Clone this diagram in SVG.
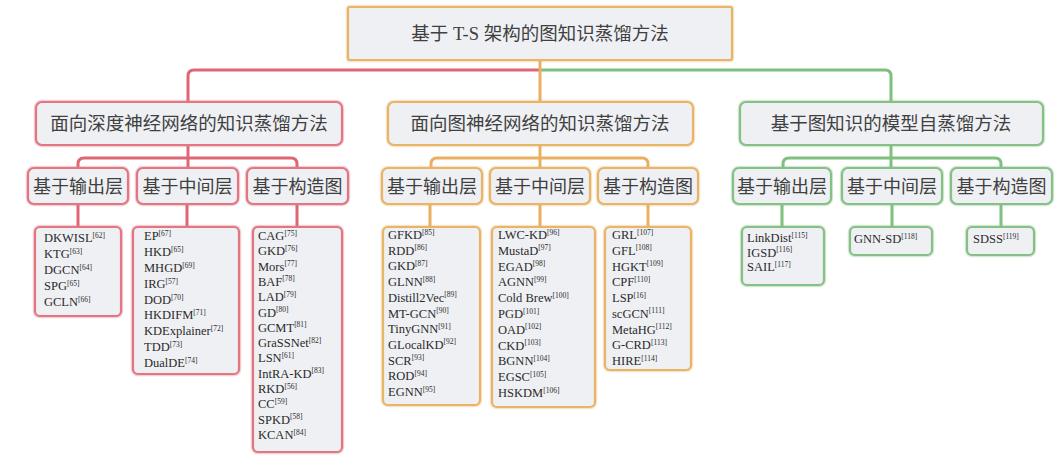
<svg xmlns="http://www.w3.org/2000/svg" width="1063" height="465" viewBox="0 0 1063 465">
<style>
.bg{fill:#ffffff}
.box{fill:#eff0f4;stroke-width:2.2}
.r{stroke:#e07783}
.o{stroke:#e8b468}
.g{stroke:#86c086}
.halo{fill:none;stroke-width:4.5;opacity:0.35}
.cr{fill:none;stroke:#e06676;stroke-width:3}
.co{fill:none;stroke:#eab060;stroke-width:3}
.cg{fill:none;stroke:#7fbf7f;stroke-width:3}
.t1{font-family:"Liberation Serif","Noto Sans CJK SC",serif;font-size:18.5px;fill:#404040;text-anchor:middle}
.t3{font-family:"Liberation Serif","Noto Sans CJK SC",serif;font-size:18px;fill:#404040;text-anchor:middle}
.li{font-family:"Liberation Serif","Times New Roman",serif;font-size:12.5px;fill:#2a2a2a}
.sup{font-size:7.5px}
</style>
<rect class="bg" x="0" y="0" width="1063" height="465"/>
<g id="connectors">
  <path class="cr" d="M188,102 V76 Q188,70 194,70 H540"/>
  <path class="cg" d="M540,70 H885 Q891,70 891,76 V102"/>
  <path class="co" d="M540,60 V102"/>
  <path class="cr" d="M188,145 V168"/>
  <path class="cr" d="M78,168 V164 Q78,158 84,158 H291 Q297,158 297,164 V168"/>
  <path class="cr" d="M78,204 V227 M187,204 V227 M297,204 V227"/>
  <path class="co" d="M540,145 V168"/>
  <path class="co" d="M431,168 V164 Q431,158 437,158 H642 Q648,158 648,164 V168"/>
  <path class="co" d="M430,204 V227 M540,204 V227 M648,204 V227"/>
  <path class="cg" d="M891,145 V168"/>
  <path class="cg" d="M783,168 V164 Q783,158 789,158 H995 Q1001,158 1001,164 V168"/>
  <path class="cg" d="M782,204 V227 M892,204 V227 M1001,204 V227"/>
</g>
<g id="root">
  <rect class="halo o" x="348" y="7" width="384" height="53" rx="2"/>
  <rect class="box o" x="348" y="7" width="384" height="53" rx="2" stroke-width="2.8"/>
  <text class="t1" x="540" y="40">基于 T-S 架构的图知识蒸馏方法</text>
</g>
<g id="dnn">
  <rect class="halo r" x="36" y="102" width="306" height="43" rx="6"/>
  <rect class="box r" x="36" y="102" width="306" height="43" rx="6"/>
  <text class="t1" x="189" y="130">面向深度神经网络的知识蒸馏方法</text>
</g>
<g id="gnn">
  <rect class="halo o" x="388" y="102" width="305" height="43" rx="6"/>
  <rect class="box o" x="388" y="102" width="305" height="43" rx="6"/>
  <text class="t1" x="540" y="130">面向图神经网络的知识蒸馏方法</text>
</g>
<g id="self">
  <rect class="halo g" x="740" y="102" width="303" height="43" rx="6"/>
  <rect class="box g" x="740" y="102" width="303" height="43" rx="6"/>
  <text class="t1" x="891" y="130">基于图知识的模型自蒸馏方法</text>
</g>
<g id="dnn-out">
  <rect class="halo r" x="28" y="168" width="100" height="36" rx="6"/>
  <rect class="box r" x="28" y="168" width="100" height="36" rx="6"/>
  <text class="t3" x="78" y="193">基于输出层</text>
</g>
<g id="dnn-mid">
  <rect class="halo r" x="137" y="168" width="101" height="36" rx="6"/>
  <rect class="box r" x="137" y="168" width="101" height="36" rx="6"/>
  <text class="t3" x="187.5" y="193">基于中间层</text>
</g>
<g id="dnn-graph">
  <rect class="halo r" x="247" y="168" width="101" height="36" rx="6"/>
  <rect class="box r" x="247" y="168" width="101" height="36" rx="6"/>
  <text class="t3" x="297.5" y="193">基于构造图</text>
</g>
<g id="gnn-out">
  <rect class="halo o" x="382" y="168" width="100" height="36" rx="6"/>
  <rect class="box o" x="382" y="168" width="100" height="36" rx="6"/>
  <text class="t3" x="432" y="193">基于输出层</text>
</g>
<g id="gnn-mid">
  <rect class="halo o" x="490" y="168" width="100" height="36" rx="6"/>
  <rect class="box o" x="490" y="168" width="100" height="36" rx="6"/>
  <text class="t3" x="540" y="193">基于中间层</text>
</g>
<g id="gnn-graph">
  <rect class="halo o" x="598" y="168" width="100" height="36" rx="6"/>
  <rect class="box o" x="598" y="168" width="100" height="36" rx="6"/>
  <text class="t3" x="648" y="193">基于构造图</text>
</g>
<g id="self-out">
  <rect class="halo g" x="733" y="168" width="98" height="36" rx="6"/>
  <rect class="box g" x="733" y="168" width="98" height="36" rx="6"/>
  <text class="t3" x="782" y="193">基于输出层</text>
</g>
<g id="self-mid">
  <rect class="halo g" x="842" y="168" width="100" height="36" rx="6"/>
  <rect class="box g" x="842" y="168" width="100" height="36" rx="6"/>
  <text class="t3" x="892" y="193">基于中间层</text>
</g>
<g id="self-graph">
  <rect class="halo g" x="951" y="168" width="101" height="36" rx="6"/>
  <rect class="box g" x="951" y="168" width="101" height="36" rx="6"/>
  <text class="t3" x="1001.5" y="193">基于构造图</text>
</g>
<g id="list-dnn-out">
  <rect class="halo r" x="35" y="227" width="86" height="89" rx="5"/>
  <rect class="box r" x="35" y="227" width="86" height="89" rx="5"/>
  <text class="li" x="44" y="242">DKWISL<tspan class="sup" dy="-4.5">[62]</tspan></text>
  <text class="li" x="44" y="258">KTG<tspan class="sup" dy="-4.5">[63]</tspan></text>
  <text class="li" x="44" y="274">DGCN<tspan class="sup" dy="-4.5">[64]</tspan></text>
  <text class="li" x="44" y="290">SPG<tspan class="sup" dy="-4.5">[65]</tspan></text>
  <text class="li" x="44" y="306">GCLN<tspan class="sup" dy="-4.5">[66]</tspan></text>
</g>
<g id="list-dnn-mid">
  <rect class="halo r" x="133" y="227" width="106" height="147" rx="5"/>
  <rect class="box r" x="133" y="227" width="106" height="147" rx="5"/>
  <text class="li" x="144" y="240">EP<tspan class="sup" dy="-4.5">[67]</tspan></text>
  <text class="li" x="144" y="256">HKD<tspan class="sup" dy="-4.5">[65]</tspan></text>
  <text class="li" x="144" y="272">MHGD<tspan class="sup" dy="-4.5">[69]</tspan></text>
  <text class="li" x="144" y="288">IRG<tspan class="sup" dy="-4.5">[57]</tspan></text>
  <text class="li" x="144" y="304">DOD<tspan class="sup" dy="-4.5">[70]</tspan></text>
  <text class="li" x="144" y="319">HKDIFM<tspan class="sup" dy="-4.5">[71]</tspan></text>
  <text class="li" x="144" y="335">KDExplainer<tspan class="sup" dy="-4.5">[72]</tspan></text>
  <text class="li" x="144" y="351">TDD<tspan class="sup" dy="-4.5">[73]</tspan></text>
  <text class="li" x="144" y="367">DualDE<tspan class="sup" dy="-4.5">[74]</tspan></text>
</g>
<g id="list-dnn-graph">
  <rect class="halo r" x="253" y="227" width="89" height="225" rx="5"/>
  <rect class="box r" x="253" y="227" width="89" height="225" rx="5"/>
  <text class="li" x="258" y="240">CAG<tspan class="sup" dy="-4.5">[75]</tspan></text>
  <text class="li" x="258" y="255.3">GKD<tspan class="sup" dy="-4.5">[76]</tspan></text>
  <text class="li" x="258" y="270.6">Mors<tspan class="sup" dy="-4.5">[77]</tspan></text>
  <text class="li" x="258" y="285.9">BAF<tspan class="sup" dy="-4.5">[78]</tspan></text>
  <text class="li" x="258" y="301.2">LAD<tspan class="sup" dy="-4.5">[79]</tspan></text>
  <text class="li" x="258" y="316.5">GD<tspan class="sup" dy="-4.5">[80]</tspan></text>
  <text class="li" x="258" y="331.8">GCMT<tspan class="sup" dy="-4.5">[81]</tspan></text>
  <text class="li" x="258" y="347.1">GraSSNet<tspan class="sup" dy="-4.5">[82]</tspan></text>
  <text class="li" x="258" y="362.4">LSN<tspan class="sup" dy="-4.5">[61]</tspan></text>
  <text class="li" x="258" y="377.7">IntRA-KD<tspan class="sup" dy="-4.5">[83]</tspan></text>
  <text class="li" x="258" y="393">RKD<tspan class="sup" dy="-4.5">[56]</tspan></text>
  <text class="li" x="258" y="408.3">CC<tspan class="sup" dy="-4.5">[59]</tspan></text>
  <text class="li" x="258" y="423.6">SPKD<tspan class="sup" dy="-4.5">[58]</tspan></text>
  <text class="li" x="258" y="439">KCAN<tspan class="sup" dy="-4.5">[84]</tspan></text>
</g>
<g id="list-gnn-out">
  <rect class="halo o" x="383" y="227" width="97" height="178" rx="5"/>
  <rect class="box o" x="383" y="227" width="97" height="178" rx="5"/>
  <text class="li" x="388" y="239">GFKD<tspan class="sup" dy="-4.5">[85]</tspan></text>
  <text class="li" x="388" y="254.7">RDD<tspan class="sup" dy="-4.5">[86]</tspan></text>
  <text class="li" x="388" y="270.4">GKD<tspan class="sup" dy="-4.5">[87]</tspan></text>
  <text class="li" x="388" y="286.1">GLNN<tspan class="sup" dy="-4.5">[88]</tspan></text>
  <text class="li" x="388" y="301.8">Distill2Vec<tspan class="sup" dy="-4.5">[89]</tspan></text>
  <text class="li" x="388" y="317.5">MT-GCN<tspan class="sup" dy="-4.5">[90]</tspan></text>
  <text class="li" x="388" y="333.2">TinyGNN<tspan class="sup" dy="-4.5">[91]</tspan></text>
  <text class="li" x="388" y="348.9">GLocalKD<tspan class="sup" dy="-4.5">[92]</tspan></text>
  <text class="li" x="388" y="364.6">SCR<tspan class="sup" dy="-4.5">[93]</tspan></text>
  <text class="li" x="388" y="380.3">ROD<tspan class="sup" dy="-4.5">[94]</tspan></text>
  <text class="li" x="388" y="396">EGNN<tspan class="sup" dy="-4.5">[95]</tspan></text>
</g>
<g id="list-gnn-mid">
  <rect class="halo o" x="492" y="227" width="103" height="180" rx="5"/>
  <rect class="box o" x="492" y="227" width="103" height="180" rx="5"/>
  <text class="li" x="498" y="239">LWC-KD<tspan class="sup" dy="-4.5">[96]</tspan></text>
  <text class="li" x="498" y="254.8">MustaD<tspan class="sup" dy="-4.5">[97]</tspan></text>
  <text class="li" x="498" y="270.6">EGAD<tspan class="sup" dy="-4.5">[98]</tspan></text>
  <text class="li" x="498" y="286.4">AGNN<tspan class="sup" dy="-4.5">[99]</tspan></text>
  <text class="li" x="498" y="302.2">Cold Brew<tspan class="sup" dy="-4.5">[100]</tspan></text>
  <text class="li" x="498" y="318">PGD<tspan class="sup" dy="-4.5">[101]</tspan></text>
  <text class="li" x="498" y="333.8">OAD<tspan class="sup" dy="-4.5">[102]</tspan></text>
  <text class="li" x="498" y="349.6">CKD<tspan class="sup" dy="-4.5">[103]</tspan></text>
  <text class="li" x="498" y="365.4">BGNN<tspan class="sup" dy="-4.5">[104]</tspan></text>
  <text class="li" x="498" y="381.2">EGSC<tspan class="sup" dy="-4.5">[105]</tspan></text>
  <text class="li" x="498" y="397">HSKDM<tspan class="sup" dy="-4.5">[106]</tspan></text>
</g>
<g id="list-gnn-graph">
  <rect class="halo o" x="605" y="227" width="86" height="143" rx="5"/>
  <rect class="box o" x="605" y="227" width="86" height="143" rx="5"/>
  <text class="li" x="612" y="239">GRL<tspan class="sup" dy="-4.5">[107]</tspan></text>
  <text class="li" x="612" y="254.75">GFL<tspan class="sup" dy="-4.5">[108]</tspan></text>
  <text class="li" x="612" y="270.5">HGKT<tspan class="sup" dy="-4.5">[109]</tspan></text>
  <text class="li" x="612" y="286.25">CPF<tspan class="sup" dy="-4.5">[110]</tspan></text>
  <text class="li" x="612" y="302">LSP<tspan class="sup" dy="-4.5">[16]</tspan></text>
  <text class="li" x="612" y="317.75">scGCN<tspan class="sup" dy="-4.5">[111]</tspan></text>
  <text class="li" x="612" y="333.5">MetaHG<tspan class="sup" dy="-4.5">[112]</tspan></text>
  <text class="li" x="612" y="349.25">G-CRD<tspan class="sup" dy="-4.5">[113]</tspan></text>
  <text class="li" x="612" y="365">HIRE<tspan class="sup" dy="-4.5">[114]</tspan></text>
</g>
<g id="list-self-out">
  <rect class="halo g" x="742" y="227" width="82" height="58" rx="5"/>
  <rect class="box g" x="742" y="227" width="82" height="58" rx="5"/>
  <text class="li" x="747" y="242">LinkDist<tspan class="sup" dy="-4.5">[115]</tspan></text>
  <text class="li" x="747" y="256.5">IGSD<tspan class="sup" dy="-4.5">[116]</tspan></text>
  <text class="li" x="747" y="271">SAIL<tspan class="sup" dy="-4.5">[117]</tspan></text>
</g>
<g id="list-self-mid">
  <rect class="halo g" x="850" y="227" width="82" height="28" rx="5"/>
  <rect class="box g" x="850" y="227" width="82" height="28" rx="5"/>
  <text class="li" x="854" y="243">GNN-SD<tspan class="sup" dy="-4.5">[118]</tspan></text>
</g>
<g id="list-self-graph">
  <rect class="halo g" x="967" y="227" width="67" height="28" rx="5"/>
  <rect class="box g" x="967" y="227" width="67" height="28" rx="5"/>
  <text class="li" x="973" y="243">SDSS<tspan class="sup" dy="-4.5">[119]</tspan></text>
</g>
</svg>
